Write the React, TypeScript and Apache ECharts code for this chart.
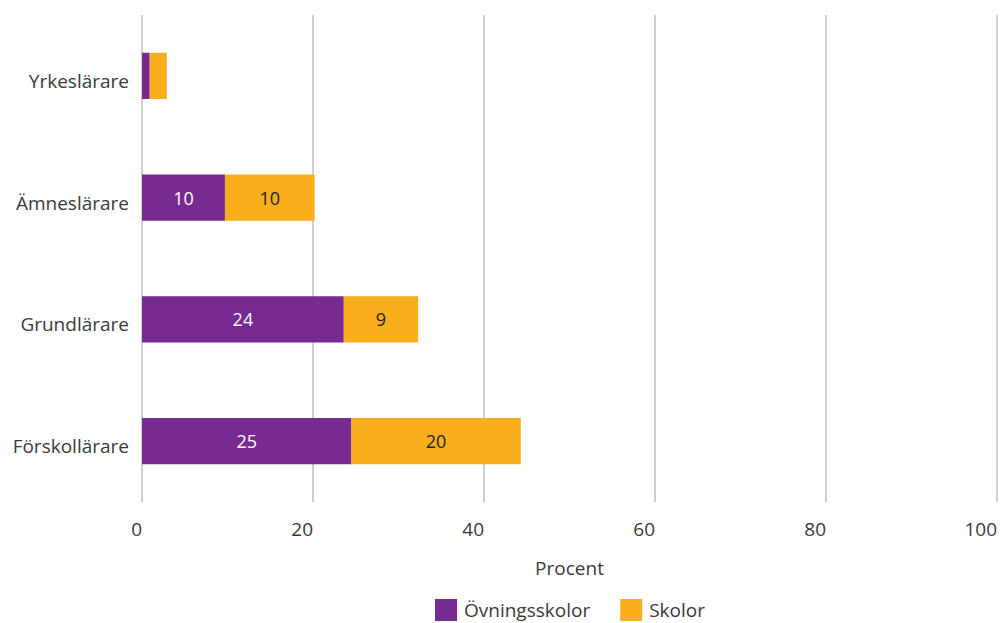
import React, { useEffect, useRef } from "react";
import * as echarts from "echarts";

const categories = ["Förskollärare", "Grundlärare", "Ämneslärare", "Yrkeslärare"];
const ovningsskolor = [24.5, 23.6, 9.7, 0.9];
const skolor = [19.8, 8.7, 10.49, 2.0];
const seriesNames = ["Övningsskolor", "Skolor"];
const xTicks = [0, 20, 40, 60, 80, 100];

const FONT = "'Open Sans', sans-serif";
const TXT = "#3a3a3a";

export default function App() {
  const ref = useRef<HTMLDivElement>(null);
  useEffect(() => {
    const chart = echarts.init(ref.current!, null, { renderer: "svg" });
    const label = (color: string) => ({
      show: true,
      position: "inside" as const,
      color,
      fontSize: 18,
      fontFamily: FONT,
      formatter: (p: any) => (p.value >= 3 ? String(Math.round(p.value)) : ""),
    });
    chart.setOption({
      animation: false,
      textStyle: { fontFamily: FONT },
      grid: { left: 142, right: 1, top: 15, bottom: 121, containLabel: false },
      xAxis: {
        type: "value",
        min: xTicks[0],
        max: xTicks[xTicks.length - 1],
        interval: 20,
        name: "Procent",
        nameLocation: "middle",
        nameGap: 56,
        nameTextStyle: { color: TXT, fontSize: 19, fontFamily: FONT },
        axisLine: { show: false },
        axisTick: { show: false },
        axisLabel: {
          color: TXT,
          fontSize: 19,
          fontFamily: FONT,
          margin: 17,
          align: "right",
        },
        splitLine: { show: true, lineStyle: { color: "#cfcfcf", width: 2 } },
      },
      yAxis: {
        type: "category",
        data: categories,
        axisLine: { show: false },
        axisTick: { show: false },
        axisLabel: {
          color: TXT,
          fontSize: 19,
          fontFamily: FONT,
          margin: 13,
          formatter: "{a|{value}}",
          rich: {
            a: { color: TXT, fontSize: 19, fontFamily: FONT, padding: [10, 0, 0, 0] },
          },
        },
      },
      legend: {
        bottom: -3,
        left: 430,
        itemWidth: 22,
        itemHeight: 22,
        itemGap: 30,
        icon: "rect",
        textStyle: { color: TXT, fontSize: 19, fontFamily: FONT, padding: [0, 0, 0, 2] },
        data: seriesNames,
      },
      series: [
        {
          name: seriesNames[0],
          type: "bar",
          stack: "total",
          data: ovningsskolor,
          barWidth: "38%",
          itemStyle: { color: "#772a8f" },
          label: label("#ffffff"),
        },
        {
          name: seriesNames[1],
          type: "bar",
          stack: "total",
          data: skolor,
          barWidth: "38%",
          itemStyle: { color: "#f9ae1b" },
          label: label("#222222"),
        },
      ],
    });
    return () => chart.dispose();
  }, []);
  return <div ref={ref} style={{ width: 1000, height: 623, position: "absolute", left: 0, top: 0 }} />;
}
